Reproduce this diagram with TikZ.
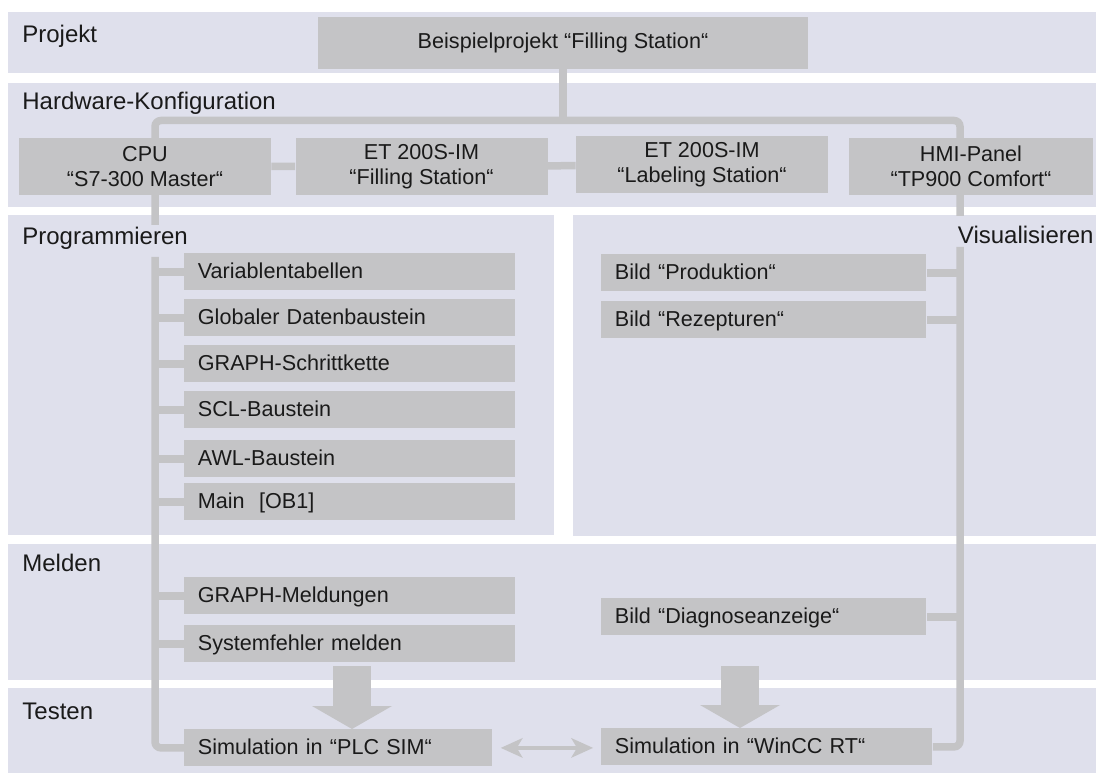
\documentclass[tikz,border=0pt]{standalone}
\usepackage{fontspec}
\setmainfont{Liberation Sans}
\usetikzlibrary{arrows.meta,backgrounds}
\definecolor{bandcol}{HTML}{DFE0EC}
\definecolor{boxcol}{HTML}{C4C4C6}
\definecolor{inkcol}{HTML}{1A1A1A}
\newcommand{\boxfont}{\fontsize{10.8}{12.5}\selectfont}
\newcommand{\bandfont}{\fontsize{12}{14}\selectfont}
\begin{document}
\begin{tikzpicture}[x=0.5pt,y=-0.5pt,
  band/.style={fill=bandcol},
  bandlabel/.style={anchor=base west,inner sep=0pt,font=\bandfont,text=inkcol},
  hwbox/.style={fill=boxcol,align=center,inner sep=0pt,minimum width=126pt,minimum height=28.5pt,font=\boxfont,text=inkcol},
  listbox/.style={fill=boxcol,anchor=north west,inner xsep=6.75pt,inner ysep=0pt,minimum height=18.5pt,text width=#1,align=left,text height=7.8pt,text depth=1.6pt,font=\boxfont,text=inkcol},
  link/.style={draw=boxcol,line width=3.75pt},
  bigarrow/.style={draw=boxcol,line width=19pt,-{Triangle[width=40pt,length=11.5pt,line width=0pt]}},
  thinarrow/.style={draw=boxcol,line width=2pt,{Stealth[length=11pt,width=10pt,inset=3pt,line width=0pt]}-{Stealth[length=11pt,width=10pt,inset=3pt,line width=0pt]},shorten <=4pt,shorten >=4pt}]
\useasboundingbox (0,0) rectangle (1096,774);
% bands
\begin{scope}[on background layer]
\fill[band] (8,12) rectangle (1096,73);
\fill[band] (8,83) rectangle (1096,207);
\fill[band] (8,215) rectangle (554,535);
\fill[band] (573,215) rectangle (1096,536);
\fill[band] (8,544) rectangle (1096,680);
\fill[band] (8,688) rectangle (1096,773);
\end{scope}
\node[bandlabel] (lprj) at (22,43) {Projekt};
\node[bandlabel] (lhw) at (22,110) {Hardware-Konfiguration};
\node[bandlabel] (lprog) at (22,245) {Programmieren};
\node[bandlabel,anchor=base east] (lvis) at (1094,244) {Visualisieren};
\node[bandlabel] (lmeld) at (22,571) {Melden};
\node[bandlabel] (ltest) at (22,719) {Testen};
% project and hardware
\node[hwbox,minimum width=245pt,minimum height=26pt] (prj) at (563,43) {Beispielprojekt “Filling Station“};
\node[hwbox] (cpu) at (145,166.5) {CPU\\“S7-300 Master“};
\node[hwbox] (etfill) at (421.5,166.5) {ET 200S-IM\\“Filling Station“};
\node[hwbox] (etlabel) at (702,165) {ET 200S-IM\\“Labeling Station“};
\node[hwbox,minimum width=122pt] (hmi) at (971,166.5) {HMI-Panel\\“TP900 Comfort“};
% programmieren, melden, testen
\node[listbox=152pt] (var) at (184,253) {Variablentabellen};
\node[listbox=152pt] (glob) at (184,299) {Globaler Datenbaustein};
\node[listbox=152pt] (graph) at (184,345) {GRAPH-Schrittkette};
\node[listbox=152pt] (scl) at (184,391) {SCL-Baustein};
\node[listbox=152pt] (awl) at (184,440) {AWL-Baustein};
\node[listbox=152pt] (main) at (184,483) {Main\ \ [OB1]};
\node[listbox=152pt] (gmeld) at (184,577) {GRAPH-Meldungen};
\node[listbox=152pt] (sysf) at (184,625) {Systemfehler melden};
\node[listbox=140.5pt] (plcsim) at (184,729) {Simulation in “PLC SIM“};
% visualisieren
\node[listbox=149pt] (prod) at (601,254) {Bild “Produktion“};
\node[listbox=149pt] (rez) at (601,301) {Bild “Rezepturen“};
\node[listbox=149pt] (diag) at (601,598) {Bild “Diagnoseanzeige“};
\node[listbox=152pt] (wincc) at (601,728) {Simulation in “WinCC RT“};
% tree lines
\begin{scope}[on background layer]
\coordinate (busL) at (155,120.5);
\coordinate (busR) at (960,120.5);
\coordinate (cpuend) at (155,225);
\coordinate (hmiend) at (960,216);
\coordinate (ptop) at (155,257);
\coordinate (vtop) at (960,247);
\draw[link,rounded corners=3pt] (cpuend) -- (busL) -- (busR) -- (hmiend);
\draw[link] (prj.south) -- (prj.south |- busL);
\draw[link] (cpu) -- (etfill) -- (etlabel);
\draw[link,rounded corners=3pt] (ptop) |- (plcsim.west);
\foreach \n in {var,glob,graph,scl,awl,main,gmeld,sysf}
  \draw[link] (\n.west) -- (\n.west -| ptop);
\draw[link,rounded corners=3pt] (vtop) |- (wincc.east);
\foreach \n in {prod,rez,diag}
  \draw[link] (\n.east) -- (\n.east -| vtop);
\end{scope}
% arrows to the simulations
\coordinate (dl) at (352,666);
\coordinate (dr) at (740,666);
\draw[bigarrow] (dl) -- (plcsim.north -| dl);
\draw[bigarrow] (dr) -- (wincc.north -| dr);
\draw[thinarrow] (plcsim.east) -- (plcsim.east -| wincc.west);
\end{tikzpicture}
\end{document}
